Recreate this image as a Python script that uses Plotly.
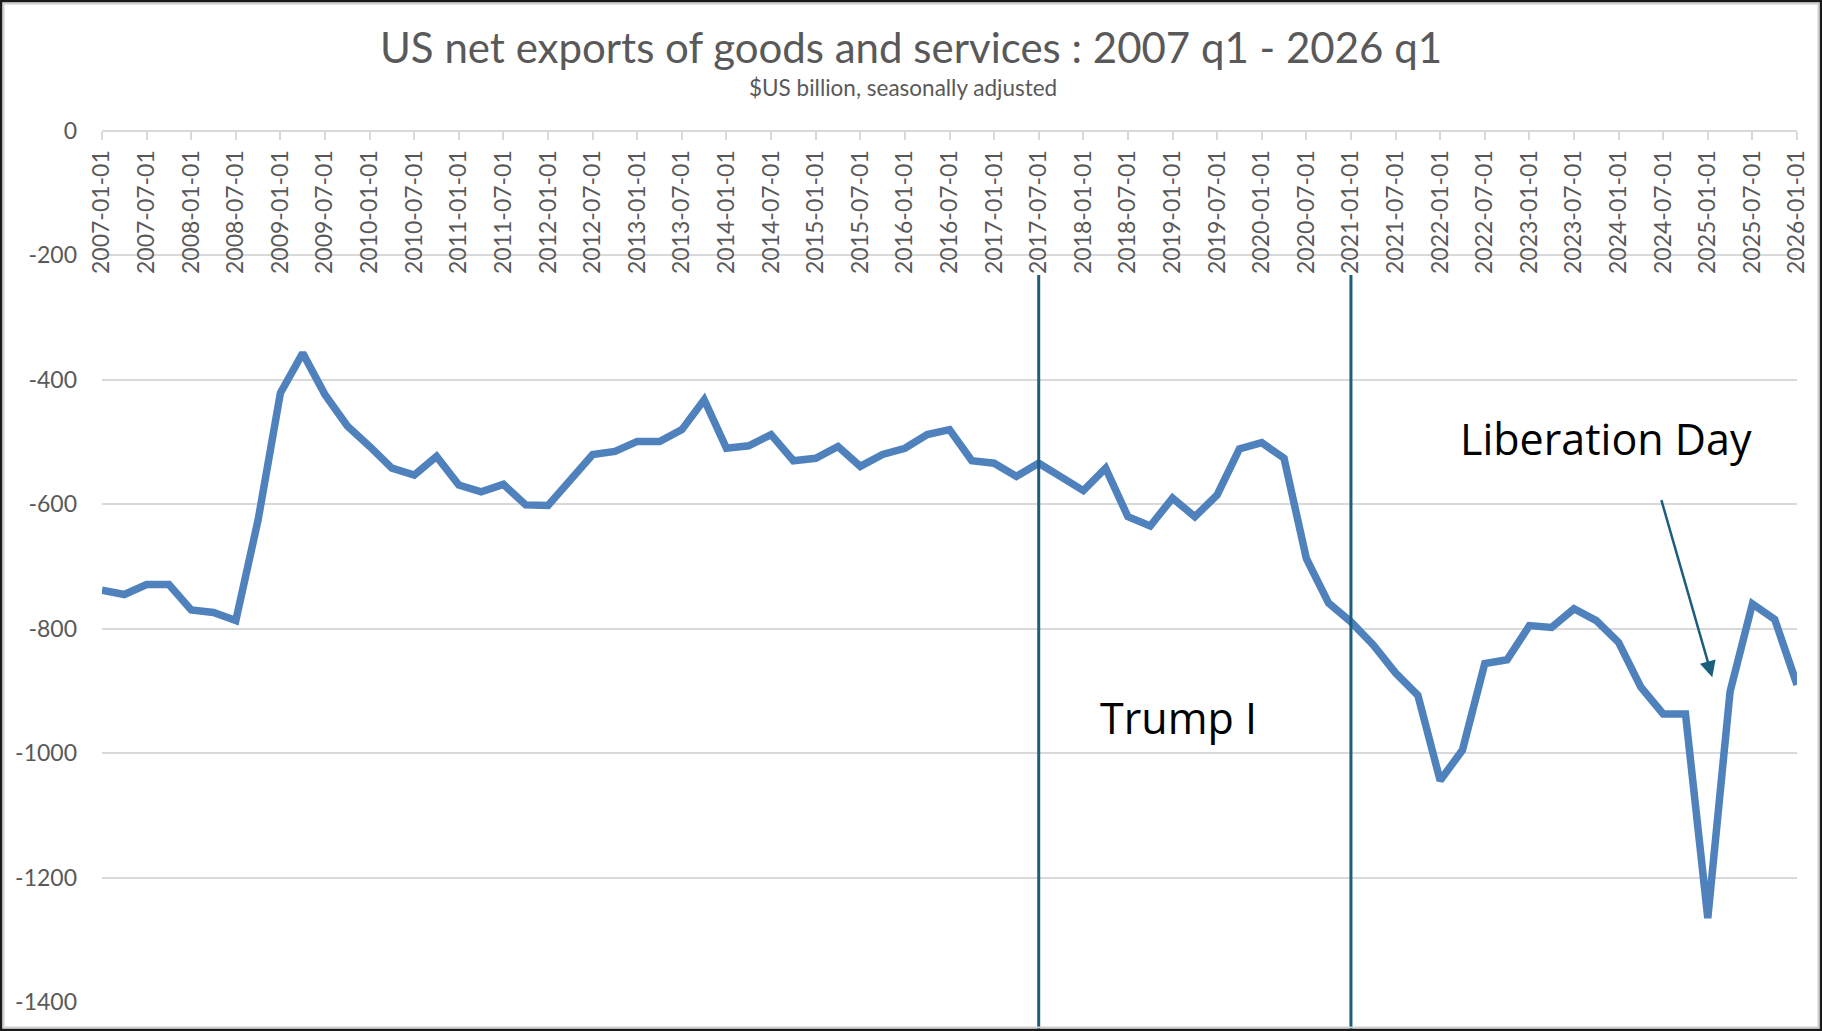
import plotly.graph_objects as go

# ---- data -------------------------------------------------------------
years = list(range(2007, 2027))
quarter_starts = ["01-01", "04-01", "07-01", "10-01"]
categories = [f"{y}-{q}" for y in years for q in quarter_starts][:77]  # 2007q1 .. 2026q1

net_exports = [
    -738, -745, -729, -729, -770, -774, -787, -625,
    -421, -357, -424, -474, -507, -542, -553, -523,
    -569, -580, -568, -601, -602, -563, -520, -515,
    -499, -499, -480, -432, -510, -506, -488, -530,
    -526, -507, -539, -520, -510, -488, -480, -530,
    -534, -555, -534, -556, -578, -542, -620, -635,
    -590, -620, -585, -511, -501, -526, -687, -759,
    -789, -826, -871, -907, -1044, -995, -856, -850,
    -795, -798, -768, -787, -822, -894, -937, -937,
    -1265, -901, -760, -785, -890,
]

x_tick_labels = categories[::2]
y_tick_vals = [0, -200, -400, -600, -800, -1000, -1200, -1400]
y_tick_text = ["0", "-200", "-400", "-600", "-800", "-1000", "-1200", "-1400"]

event_lines = ["2017-07-01", "2021-01-01"]

title_text = "US net exports of goods and services : 2007 q1 - 2026 q1"
subtitle_text = "$US billion, seasonally adjusted"

# ---- figure -----------------------------------------------------------
W, H = 1822, 1031
L, R, T, B = 102, 25, 131, 29
pw, ph = W - L - R, H - T - B

def px_to_paper_x(px):
    return (px - L) / pw

def px_to_paper_y(py):
    return (H - B - py) / ph

line_col = "#4F81BD"
teal = "#1B5E7E"
grey_txt = "#595959"
grid_col = "#D9D9D9"

fig = go.Figure()
fig.add_trace(go.Scatter(
    x=categories, y=net_exports, mode="lines",
    line=dict(color=line_col, width=7.5), showlegend=False,
))

idx = {c: i for i, c in enumerate(categories)}

shapes = []
for d in event_lines:
    shapes.append(dict(type="line", xref="x", yref="paper",
                       x0=idx[d], x1=idx[d],
                       y0=px_to_paper_y(1029), y1=px_to_paper_y(275),
                       line=dict(color=teal, width=3)))
# chart border (outer dark frame + inner light frame)
shapes.append(dict(type="rect", xref="paper", yref="paper",
                   x0=px_to_paper_x(3.5), x1=px_to_paper_x(W - 3.5),
                   y0=px_to_paper_y(H - 3.5), y1=px_to_paper_y(3.5),
                   line=dict(color="#D0D0D0", width=2), layer="above"))
shapes.append(dict(type="rect", xref="paper", yref="paper",
                   x0=px_to_paper_x(1), x1=px_to_paper_x(W - 1),
                   y0=px_to_paper_y(H - 1), y1=px_to_paper_y(1),
                   line=dict(color="#1A1A1A", width=2.5), layer="above"))

annotations = [
    dict(text=subtitle_text, xref="paper", yref="paper",
         x=px_to_paper_x(903), y=px_to_paper_y(88),
         xanchor="center", yanchor="middle", showarrow=False,
         font=dict(family="Lato", size=22.5, color=grey_txt)),
    dict(text="Trump I", xref="paper", yref="paper",
         x=px_to_paper_x(1178), y=px_to_paper_y(717),
         xanchor="center", yanchor="middle", showarrow=False,
         font=dict(family="Open Sans", size=43, color="#000000")),
    dict(text="Liberation Day", xref="paper", yref="paper",
         x=px_to_paper_x(1606), y=px_to_paper_y(438),
         xanchor="center", yanchor="middle", showarrow=False,
         font=dict(family="Open Sans", size=43, color="#000000")),
    dict(text="", x=72.2, y=-878, xref="x", yref="y",
         ax=69.9, ay=-591, axref="x", ayref="y",
         showarrow=True, arrowhead=2, arrowsize=1.3, arrowwidth=2.5,
         arrowcolor=teal),
]

fig.update_layout(
    width=W, height=H,
    margin=dict(l=L, r=R, t=T, b=B),
    paper_bgcolor="white", plot_bgcolor="white",
    title=dict(text=title_text, x=0.5, xanchor="center",
               y=1 - 48 / H, yanchor="middle",
               font=dict(family="Lato", size=42, color=grey_txt)),
    shapes=shapes, annotations=annotations,
    xaxis=dict(type="category", range=[0, 76],
               anchor="free", position=1, side="bottom",
               tickmode="array", tickvals=x_tick_labels, ticktext=x_tick_labels,
               tickangle=-90, ticks="outside", ticklen=8, tickwidth=1.5,
               tickcolor=grid_col, showgrid=False,
               showline=True, linecolor=grid_col, linewidth=2,
               ticklabelstandoff=1,
               tickfont=dict(family="Lato", size=23, color=grey_txt)),
    yaxis=dict(range=[-1400, 0], tickmode="array",
               tickvals=y_tick_vals, ticktext=y_tick_text,
               showgrid=True, gridcolor=grid_col, gridwidth=2,
               zeroline=False, showline=False, ticks="",
               ticklabelstandoff=24,
               tickfont=dict(family="Lato", size=23, color=grey_txt)),
)

fig.write_html("out.html", config={"displayModeBar": False},
               post_script="document.body.style.margin='0';document.body.style.overflow='hidden';")
